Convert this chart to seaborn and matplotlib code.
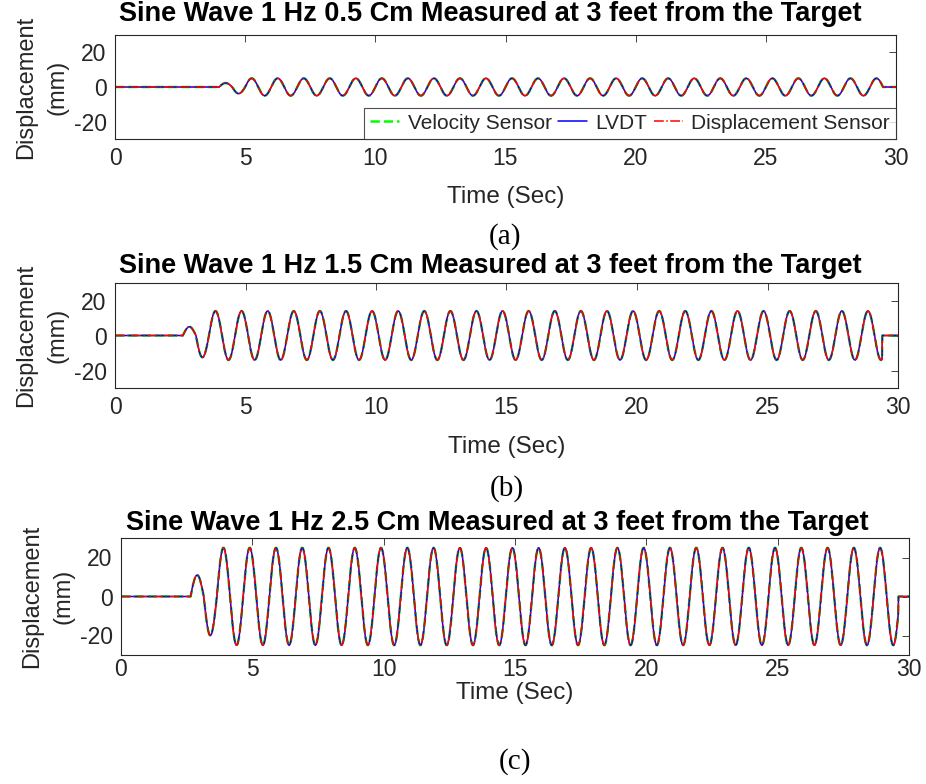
import numpy as np
import pandas as pd
import matplotlib
matplotlib.use("Agg")
import matplotlib.pyplot as plt
import seaborn as sns

# per-panel readings (mm, s)
titles = [
    "Sine Wave 1 Hz 0.5 Cm Measured at 3 feet from the Target",
    "Sine Wave 1 Hz 1.5 Cm Measured at 3 feet from the Target",
    "Sine Wave 1 Hz 2.5 Cm Measured at 3 feet from the Target",
]
captions = ["(a)", "(b)", "(c)"]
amplitudes = [5.0, 14.0, 25.0]
onsets = [4.0, 2.6, 2.65]
stops = [29.5, 29.4, 29.6]
first_half = [2.3, 5.0, 11.0]
second_half = [3.8, 12.5, 20.0]
freq_hz = 1.0

sensors = ["Velocity Sensor", "LVDT", "Displacement Sensor"]
colors = ["#00ff00", "#0000ff", "#ff0000"]
styles = ["--", "-", "-."]
widths = [1.8, 1.1, 1.1]

t = np.arange(0, 30.001, 0.01)


def wave(i):
    ph = (t - onsets[i]) * freq_hz
    env = np.where(ph < 0.5, first_half[i], np.where(ph < 1.0, second_half[i], amplitudes[i]))
    y = env * np.sin(2 * np.pi * ph)
    y[(t < onsets[i]) | (t >= stops[i])] = 0.0
    return y


sns.set_style("white")
plt.rcParams["font.family"] = ["Liberation Sans", "DejaVu Sans"]
plt.rcParams["axes.unicode_minus"] = False
dark = "#262626"

fig = plt.figure(figsize=(9.26, 7.84), dpi=100)
W, H = 926, 784
boxes = [(115, 35, 896, 139), (115, 283, 898, 388), (121, 538, 909, 655)]
title_x = [490, 490, 497]
title_y = [14, 266, 523]
xlabel_y = [197, 447, 693]
caption_y = [237, 489, 762]
xpads = [6, 6, 2]

for i, (x0, y0, x1, y1) in enumerate(boxes):
    ax = fig.add_axes([x0 / W, 1 - y1 / H, (x1 - x0) / W, (y1 - y0) / H])
    df = pd.DataFrame({"Time": t, "Disp": wave(i)})
    for s, c, ls, lw in zip(sensors, colors, styles, widths):
        sns.lineplot(data=df, x="Time", y="Disp", ax=ax, color=c,
                     linestyle=ls, linewidth=lw, label=s, legend=False)
    ax.set_xlim(0, 30)
    ax.set_ylim(-30, 30)
    ax.set_xticks([0, 5, 10, 15, 20, 25, 30])
    ax.set_yticks([-20, 0, 20])
    ax.tick_params(direction="in", top=True, right=True, length=5,
                   labelsize=16.5, colors=dark, labelcolor=dark, width=0.6)
    ax.tick_params(axis="x", pad=xpads[i])
    ax.tick_params(axis="y", pad=6)
    for sp in ax.spines.values():
        sp.set_color(dark)
        sp.set_linewidth(0.8)
    ax.set_xlabel("")
    ax.set_ylabel("Displacement\n(mm)", fontsize=17, color=dark, labelpad=4,
                  linespacing=1.55)
    cx = (x0 + x1) / 2
    fig.text(title_x[i] / W, 1 - title_y[i] / H, titles[i], ha="center", va="center",
             fontsize=19.5, fontweight="bold", color="black")
    fig.text(cx / W, 1 - xlabel_y[i] / H, "Time (Sec)", ha="center", va="center",
             fontsize=17.5, color=dark)
    fig.text(cx / W, 1 - caption_y[i] / H, captions[i], ha="center", va="center",
             fontsize=21, family=["Liberation Serif", "DejaVu Serif"], color="black")
    if i == 0:
        leg = ax.legend(loc="lower right", ncol=3, fontsize=15, frameon=True,
                        fancybox=False, borderaxespad=0, handlelength=1.4,
                        columnspacing=0.3, handletextpad=0.4, borderpad=0.3)
        leg.get_frame().set_edgecolor(dark)
        leg.get_frame().set_linewidth(0.8)

fig.savefig("out.png", dpi=100)
